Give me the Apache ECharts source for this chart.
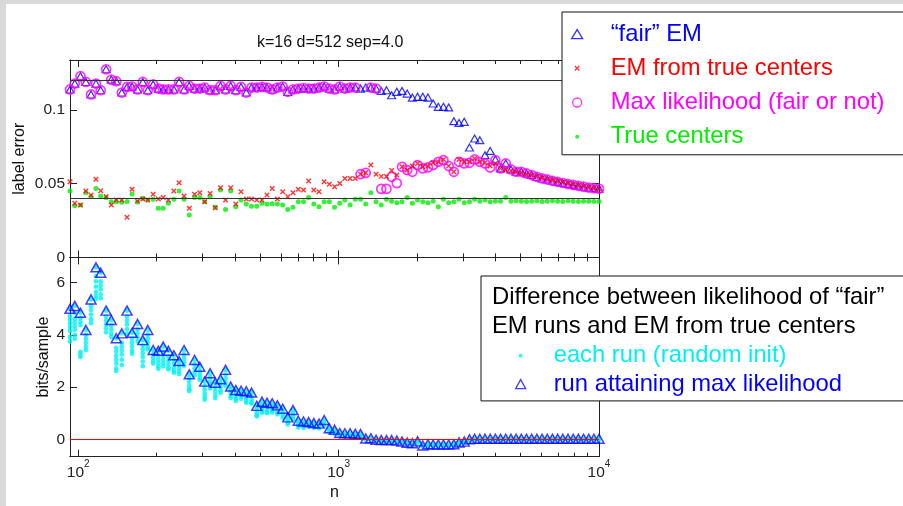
<!DOCTYPE html>
<html><head><meta charset="utf-8">
<script src="https://cdn.jsdelivr.net/npm/echarts@6/dist/echarts.min.js"></script>
<style>html,body{margin:0;padding:0;background:#d9d9d9}#c{width:903px;height:506px}</style>
</head><body><div id="c"></div><script>
// ---------- data ----------
const nValues = [93,97,102,107,112,117,122,128,134,140,147,154,161,169,177,185,194,203,212,222,233,244,255,267,280,293,306,321,336,352,368,385,403,422,442,463,485,508,531,556,582,610,638,668,700,733,767,803,841,880,921,965,1010,1057,1107,1159,1214,1271,1330,1393,1458,1527,1598,1673,1752,1834,1920,2010,2105,2203,2307,2415,2528,2647,2771,2901,3037,3180,3329,3485,3649,3820,4000,4187,4384,4590,4805,5031,5267,5514,5773,6044,6328,6625,6936,7261,7602,7959,8332,8723,9133,9561,10000];

const fairEM = [0.1140,0.1180,0.1230,0.1191,0.1106,0.1180,0.1135,0.1277,0.1207,0.1196,0.1119,0.1157,0.1160,0.1140,0.1191,0.1135,0.1174,0.1146,0.1140,0.1140,0.1140,0.1191,0.1140,0.1164,0.1146,0.1146,0.1153,0.1135,0.1135,0.1164,0.1140,0.1164,0.1135,0.1157,0.1119,0.1153,0.1153,0.1157,0.1153,0.1140,0.1153,0.1160,0.1124,0.1140,0.1146,
0.1150,0.1146,0.1146,0.1153,0.1160,0.1146,0.1140,0.1160,0.1146,0.1153,0.1153,0.1146,0.1153,0.1153,0.1146,
0.1130,0.1135,0.1101,0.1124,0.1130,0.1112,0.1085,0.1090,0.1090,0.1085,0.1045,0.1022,0.1022,0.1018,0.0925,0.0913,0.0920,0.0746,0.0807,0.0796,0.0694,0.0723,0.0665,0.0604,0.0638,0.0597,0.0581,0.0581,0.0570,0.0559,0.0547,0.0536,0.0529,0.0520,0.0513,0.0505,0.0498,0.0492,0.0486,0.0480,0.0474,0.0470,0.0466];

const emTrueCenters = [0.0513,0.0367,0.0355,0.0450,0.0423,0.0530,0.0452,0.0412,0.0355,0.0389,0.0389,0.0272,0.0462,0.0382,0.0396,0.0389,0.0428,0.0396,0.0407,0.0389,0.0450,0.0506,0.0416,0.0333,0.0428,0.0439,0.0378,0.0434,0.0337,0.0473,0.0389,0.0473,0.0362,0.0446,0.0396,0.0396,0.0389,0.0389,0.0423,0.0468,0.0396,0.0446,0.0412,0.0439,0.0462,
0.0457,0.0518,0.0457,0.0446,0.0513,0.0496,0.0480,0.0502,0.0536,0.0536,0.0536,0.0565,0.0574,0.0627,0.0565,0.0550,0.0549,0.0590,0.0559,0.0615,0.0593,0.0620,0.0638,0.0615,0.0620,0.0642,0.0649,0.0665,0.0620,0.0581,0.0665,0.0649,0.0649,0.0672,0.0649,0.0642,0.0620,0.0638,0.0604,0.0593,
0.0588,0.0580,0.0575,0.0565,0.0558,0.0550,0.0540,0.0533,0.0525,0.0518,0.0510,0.0503,0.0495,0.0490,0.0483,0.0477,0.0470,0.0466];

const maxLikelihood = [0.1140,0.1180,0.1230,0.1191,0.1106,0.1180,0.1135,0.1277,0.1207,0.1196,0.1119,0.1157,0.1160,0.1140,0.1191,0.1135,0.1174,0.1146,0.1140,0.1140,0.1140,0.1191,0.1140,0.1164,0.1146,0.1146,0.1153,0.1135,0.1135,0.1164,0.1140,0.1164,0.1135,0.1157,0.1119,0.1153,0.1153,0.1157,0.1153,0.1140,0.1153,0.1160,0.1124,0.1140,0.1146,
0.1150,0.1146,0.1146,0.1153,0.1160,0.1146,0.1140,0.1160,0.1146,0.1153,0.1153,0.0565,0.0574,0.1153,0.1146,
0.0465,0.0465,0.0547,0.0504,0.0615,0.0593,0.0581,0.0627,0.0604,0.0611,0.0627,0.0649,0.0660,0.0620,0.0581,0.0649,0.0638,0.0642,0.0665,0.0649,0.0638,0.0611,0.0660,
0.0604,0.0638,0.0597,0.0581,0.0581,0.0570,0.0559,0.0547,0.0536,0.0529,0.0520,0.0513,0.0505,0.0498,0.0492,0.0486,0.0480,0.0474,0.0470,0.0466];

const trueCenters = [0.0450,0.0351,0.0355,0.0439,0.0412,0.0468,0.0416,0.0407,0.0378,0.0378,0.0374,0.0380,0.0430,0.0376,0.0401,0.0389,0.0394,0.0333,0.0333,0.0367,0.0394,0.0450,0.0394,0.0287,0.0407,0.0407,0.0378,0.0412,0.0340,0.0457,0.0326,0.0450,0.0344,0.0389,0.0362,0.0348,0.0348,0.0367,0.0362,0.0365,0.0362,0.0355,0.0326,0.0340,0.0378,
0.0378,0.0407,0.0362,0.0344,0.0378,0.0378,0.0340,0.0367,0.0389,0.0355,0.0394,0.0394,0.0362,0.0439,0.0378,0.0355,0.0394,0.0382,0.0371,0.0378,0.0407,0.0367,0.0389,0.0378,0.0371,0.0382,0.0344,0.0394,0.0371,0.0378,0.0394,0.0371,0.0378,0.0394,0.0382,0.0389,0.0378,0.0382,0.0382,0.0407,
0.0382,0.0385,0.0382,0.0380,0.0382,0.0384,0.0380,0.0382,0.0385,0.0382,0.0380,0.0384,0.0382,0.0380,0.0382,0.0381,0.0380,0.0380];

const refLevels = [0.118, 0.0383];

const bitsMaxRun = [5.00,5.11,4.85,4.19,5.36,6.59,6.38,4.93,4.57,3.87,4.06,4.93,4.08,4.42,3.80,4.19,3.42,3.39,3.55,3.39,3.22,3.00,3.42,2.49,3.04,2.78,2.21,2.53,2.17,2.30,2.66,2.02,1.89,1.86,1.84,1.79,1.28,1.44,1.40,1.38,1.30,1.17,0.84,1.12,0.71,
0.68,0.66,0.62,0.60,0.74,0.42,0.36,0.24,0.23,0.23,0.21,0.20,0.03,0.04,-0.02,-0.03,-0.03,-0.03,-0.05,-0.09,-0.13,-0.15,-0.08,-0.24,-0.19,-0.20,-0.20,-0.20,-0.20,-0.19,-0.12,-0.09,0.00,
0.02,0.02,0.02,0.02,0.02,0.02,0.02,0.02,0.02,0.02,0.02,0.02,0.02,0.02,0.02,0.02,0.02,0.02,0.02,0.02,0.02,0.02,0.02,0.02,0.02];

const bitsEachRun = [
[5.00,4.72,4.58,4.45,4.30,4.15,3.92,3.75],[5.11,4.85,4.62,4.48,4.33,4.20,4.00,3.85],[4.85,4.65,4.50,4.38,3.35,3.25,3.15],[4.19,4.00,3.85,3.70,3.55,3.42],
[5.36,5.10,4.95,4.78,4.60,4.45],[6.59,6.25,6.05,5.85,5.65,5.50,5.38],[6.38,6.05,5.90,5.75,5.55,5.40],[4.93,4.70,4.55,4.40,4.25,4.10],
[4.57,4.35,4.20,4.05,3.92],[3.87,3.50,3.35,3.20,3.05,2.90,2.72,2.62],[4.06,3.70,3.55,3.40,3.25,3.05,2.85],[4.93,4.70,4.55,4.40,4.22,4.05],
[4.08,3.85,3.70,3.55,3.40,3.28],[4.42,4.20,4.05,3.90,3.75],[3.80,3.60,3.45,3.30,3.15,2.98,2.80],[4.19,4.00,3.85,3.70,3.55,3.45],
[3.42,3.25,3.12,3.00,2.90],[3.39,3.20,3.05,2.92,2.80,2.70],[3.55,3.35,3.20,3.05,2.92,2.80],[3.39,3.18,3.02,2.88,2.75,2.68],
[3.22,3.05,2.90,2.75,2.62,2.55],[3.00,2.85,2.72,2.60,2.50],[3.42,3.25,3.10,2.95,2.82],[2.49,2.35,2.20,2.05,1.92,1.85],
[3.04,2.88,2.72,2.58,2.45],[2.78,2.62,2.48,2.35,2.28],[2.21,2.05,1.90,1.75,1.62,1.52],[2.53,2.38,2.22,2.08,1.95],
[2.17,2.00,1.85,1.70,1.58],[2.30,2.15,2.00,1.88,1.78],[2.66,2.48,2.32,2.18,2.05],[2.02,1.90,1.78,1.66,1.58],
[1.89,1.77,1.65,1.55,1.47],[1.86,1.75,1.65,1.55],[1.84,1.70,1.58,1.47,1.40],[1.79,1.65,1.52,1.42,1.37],
[1.28,1.15,1.02,0.92,0.88],[1.44,1.30,1.18,1.08,1.02],[1.40,1.27,1.15,1.05,1.00],[1.38,1.25,1.12,1.03],
[1.30,1.18,1.06,0.96],[1.17,1.05,0.93,0.83],[0.84,0.74,0.64,0.57],[1.12,1.00,0.88,0.77],[0.71,0.62,0.53,0.45],
[0.68,0.58,0.50,0.44],[0.66,0.57,0.48],[0.62,0.52,0.44],[0.60,0.50,0.42],[0.74,0.62,0.52],[0.42,0.34,0.27],[0.36,0.28,0.22],
[0.24,0.17,0.12],[0.23,0.16,0.11],[0.23,0.16,0.11],[0.21,0.14,0.09],[0.20,0.13,0.08],[0.03,-0.02],[0.04,-0.01],
[-0.02,-0.07],[-0.03,-0.08],[-0.03,-0.08],[-0.03,-0.08],[-0.05,-0.10],[-0.09,-0.14],[-0.13,-0.18],[-0.15,-0.20],[-0.08,-0.13],
[-0.24,-0.28],[-0.19,-0.24],[-0.20,-0.25],[-0.20,-0.25],[-0.20,-0.25],[-0.20,-0.25],[-0.19,-0.24],[-0.12,-0.17],[-0.09,-0.14],[0.00,-0.04],
[0.02,-0.01],[0.02,-0.01],[0.02,-0.01],[0.02,-0.01],[0.02,-0.01],[0.02,-0.01],[0.02,-0.01],[0.02,-0.01],[0.02,-0.01],[0.02,-0.01],
[0.02,-0.01],[0.02,-0.01],[0.02,-0.01],[0.02,-0.01],[0.02,-0.01],[0.02,-0.01],[0.02,-0.01],[0.02,-0.01],[0.02,-0.01],[0.02,-0.01],
[0.02,-0.01],[0.02,-0.01],[0.02,-0.01],[0.02,-0.01],[0.02,-0.01]];

const xMajorTicks = [100, 1000, 10000];
const xMinorTicks = [200,300,400,500,600,700,800,900,2000,3000,4000,5000,6000,7000,8000,9000];
const yTopTicks = [0, 0.05, 0.1];
const yBottomTicks = [0, 2, 4, 6];

// ---------- chart ----------
const FONT = '"Liberation Sans", Arial, sans-serif';
const AX = '#222';
const X_MIN = 93, X_MAX = 10000;
const LEG_FS = 23.8;

function xAxisDef(grid, pos, ticks, len, withLabels, extra) {
  return Object.assign({
    type: 'log', logBase: 10, gridIndex: grid, position: pos, min: X_MIN, max: X_MAX,
    axisLine: {show: true, onZero: false, lineStyle: {color: AX, width: 1}},
    axisTick: {show: true, inside: true, length: len, customValues: ticks, lineStyle: {color: AX, width: 1}},
    axisLabel: withLabels ? {
      show: true, customValues: ticks, margin: 3, color: '#222', fontFamily: FONT,
      formatter: v => '{b|10}{s|' + Math.round(Math.log10(v)) + '}',
      rich: {b: {fontSize: 15.5, lineHeight: 21, verticalAlign: 'bottom', fontFamily: FONT, color: '#222'},
             s: {fontSize: 10, lineHeight: 10, verticalAlign: 'top', fontFamily: FONT, color: '#222'}}
    } : {show: false},
    splitLine: {show: false}, minorTick: {show: false}, minorSplitLine: {show: false}
  }, extra || {});
}
function yAxisDef(grid, pos, min, max, ticks, withLabels, extra) {
  return Object.assign({
    type: 'value', gridIndex: grid, position: pos, min: min, max: max,
    axisLine: {show: true, onZero: false, lineStyle: {color: AX, width: 1}},
    axisTick: {show: true, inside: true, length: 7, customValues: ticks, lineStyle: {color: AX, width: 1}},
    axisLabel: withLabels ? {show: true, customValues: ticks, margin: 5, fontSize: 15.5, color: '#222', fontFamily: FONT} : {show: false},
    splitLine: {show: false}
  }, extra || {});
}

const pts = arr => nValues.map((n, i) => [n, arr[i]]);
const runPts = [];
bitsEachRun.forEach((runs, i) => runs.forEach(v => runPts.push([nValues[i], v])));

const hollow = (c, w) => ({color: 'rgba(0,0,0,0)', borderColor: c, borderWidth: w});
const baseSeries = {type: 'scatter', silent: true, animation: false, emphasis: {disabled: true}};

const option = {
  animation: false,
  backgroundColor: '#d9d9d9',
  graphic: [{type: 'rect', shape: {x: 6, y: 4, width: 897, height: 502}, style: {fill: '#fff'}, z: -10, silent: true}],
  title: [
    {text: 'k=16 d=512 sep=4.0', left: 257, top: 35, padding: 0,
     textStyle: {fontSize: 16, fontWeight: 'normal', color: '#111', fontFamily: FONT}},
    {text: 'Difference between likelihood of \u201cfair\u201d\nEM runs and EM from true centers', left: 492, top: 282.5, padding: 0, z: 10,
     textStyle: {fontSize: LEG_FS, lineHeight: 29, fontWeight: 'normal', color: '#000', fontFamily: FONT}}
  ],
  grid: [
    {left: 70, top: 60, width: 529, height: 197.4, containLabel: false},
    {left: 70, top: 257.4, width: 529, height: 199.3, containLabel: false}
  ],
  xAxis: [
    xAxisDef(0, 'bottom', xMajorTicks, 7, false),
    xAxisDef(0, 'bottom', xMinorTicks, 4, false),
    xAxisDef(0, 'top', xMajorTicks, 7, false),
    xAxisDef(0, 'top', xMinorTicks, 4, false),
    xAxisDef(1, 'bottom', xMajorTicks, 7, true, {name: 'n', nameLocation: 'middle', nameGap: 28, nameMoveOverlap: false,
      nameTextStyle: {fontSize: 16, color: '#111', fontFamily: FONT}}),
    xAxisDef(1, 'bottom', xMinorTicks, 4, false),
    xAxisDef(1, 'top', xMajorTicks, 7, false),
    xAxisDef(1, 'top', xMinorTicks, 4, false)
  ],
  yAxis: [
    yAxisDef(0, 'left', 0, 0.134, yTopTicks, true, {name: 'label error', nameLocation: 'middle', nameGap: 42, nameMoveOverlap: false,
      nameTextStyle: {fontSize: 16, color: '#111', fontFamily: FONT}}),
    yAxisDef(0, 'right', 0, 0.134, yTopTicks, false),
    yAxisDef(1, 'left', -0.667, 6.97, yBottomTicks, true, {name: 'bits/sample', nameLocation: 'middle', nameGap: 18, nameMoveOverlap: false,
      nameTextStyle: {fontSize: 16, color: '#111', fontFamily: FONT}}),
    yAxisDef(1, 'right', -0.667, 6.97, yBottomTicks, false)
  ],
  legend: [
    {orient: 'vertical', left: 562, top: 12, padding: [5, 200, 1, 9], itemWidth: 11, itemHeight: 9, itemGap: 0,
     backgroundColor: '#fff', borderColor: '#111', borderWidth: 1, selectedMode: false, z: 8,
     textStyle: {fontSize: LEG_FS, lineHeight: 34.2, fontFamily: FONT, padding: [0, 0, 0, 23]},
     data: [
       {name: '\u201cfair\u201d EM', textStyle: {color: '#0000ff'}, itemStyle: {borderWidth: 1.3}},
       {name: 'EM from true centers', icon: 'path://M0,0M10,10M2.5,2.5L7.5,7.5M7.5,2.5L2.5,7.5', textStyle: {color: '#ff0000'}, itemStyle: {borderWidth: 1.3}},
       {name: 'Max likelihood (fair or not)', textStyle: {color: '#ff00ff'}, itemStyle: {borderWidth: 1.3}},
       {name: 'True centers', icon: 'path://M0,0M10,10M2.8,5A2.2,2.2,0,1,1,7.2,5A2.2,2.2,0,1,1,2.8,5Z', textStyle: {color: '#00ee00'}}
     ]},
    {orient: 'vertical', left: 481, top: 276, padding: [65.5, 300, 2.6, 34], itemWidth: 10, itemHeight: 9, itemGap: 0,
     backgroundColor: '#fff', borderColor: '#111', borderWidth: 1, selectedMode: false, z: 8,
     textStyle: {fontSize: LEG_FS, lineHeight: 28.4, fontFamily: FONT, padding: [0, 0, 0, 23]},
     data: [
       {name: 'each run (random init)', icon: 'path://M0,0M10,10M2.8,5A2.2,2.2,0,1,1,7.2,5A2.2,2.2,0,1,1,2.8,5Z', textStyle: {color: '#00f0f0'}},
       {name: 'run attaining max likelihood', textStyle: {color: '#0000ff'}, itemStyle: {borderWidth: 1.3}}
     ]}
  ],
  series: [
    Object.assign({}, baseSeries, {name: 'True centers', xAxisIndex: 0, yAxisIndex: 0, symbol: 'circle', symbolSize: 5,
      itemStyle: {color: '#00ee00'}, data: pts(trueCenters),
      markLine: {silent: true, symbol: 'none', animation: false, label: {show: false},
        lineStyle: {color: '#333', width: 1.2, type: 'solid'}, emphasis: {disabled: true},
        data: refLevels.map(v => ({yAxis: v}))}}),
    Object.assign({}, baseSeries, {name: '\u201cfair\u201d EM', xAxisIndex: 0, yAxisIndex: 0, symbol: 'triangle', symbolSize: [8, 7],
      itemStyle: hollow('#0000ff', 1.2), data: pts(fairEM)}),
    Object.assign({}, baseSeries, {name: 'Max likelihood (fair or not)', xAxisIndex: 0, yAxisIndex: 0, symbol: 'circle', symbolSize: 9,
      itemStyle: hollow('#ff00ff', 1.7), data: pts(maxLikelihood)}),
    Object.assign({}, baseSeries, {name: 'EM from true centers', xAxisIndex: 0, yAxisIndex: 0, symbol: 'path://M0,0L10,10M10,0L0,10', symbolSize: 4.5,
      itemStyle: hollow('#ff0000', 1.4), data: pts(emTrueCenters)}),
    Object.assign({}, baseSeries, {name: 'each run (random init)', xAxisIndex: 4, yAxisIndex: 2, symbol: 'circle', symbolSize: 4.8,
      itemStyle: {color: '#00f2f2'}, data: runPts}),
    Object.assign({}, baseSeries, {name: 'run attaining max likelihood', xAxisIndex: 4, yAxisIndex: 2, symbol: 'triangle', symbolSize: [10, 9],
      itemStyle: hollow('#1010ff', 1.5), data: pts(bitsMaxRun),
      markLine: {silent: true, symbol: 'none', animation: false, label: {show: false},
        lineStyle: {color: '#ff0000', width: 1, type: 'solid'}, emphasis: {disabled: true},
        data: [{yAxis: 0}]}})
  ]
};
const chart = echarts.init(document.getElementById('c'), null, {renderer: 'canvas'});
chart.setOption(option);
</script></body></html>
